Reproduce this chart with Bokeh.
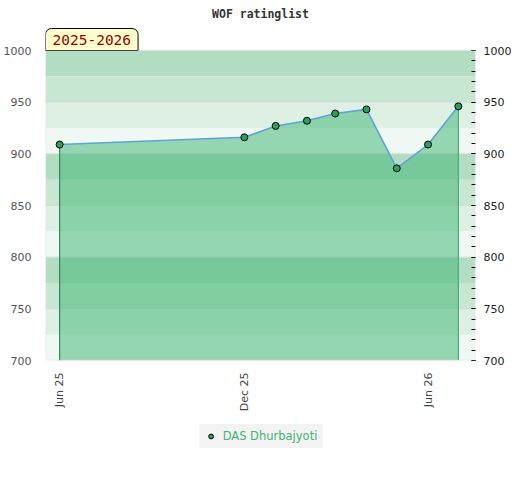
import pandas as pd
import numpy as np
from bokeh.plotting import figure
from bokeh.layouts import column
from bokeh.models import (Range1d, FixedTicker, LinearAxis, DatetimeTickFormatter,
                          BoxAnnotation, Legend, LegendItem, Label, ColumnDataSource, Span)
from bokeh.embed import file_html
from bokeh.resources import INLINE

# ---- data ----
dates = ["2025-06-01", "2025-12-01", "2026-01-01", "2026-02-01", "2026-03-01",
         "2026-04-01", "2026-05-01", "2026-06-01", "2026-07-01"]
ratings = [909, 916, 927, 932, 939, 943, 886, 909, 946]
player = "DAS Dhurbajyoti"
season = "2025-2026"
title = "WOF ratinglist"
x_tick_dates = ["2025-06-01", "2025-12-01", "2026-06-01"]
y_ticks = [700, 750, 800, 850, 900, 950, 1000]

dt = pd.to_datetime(dates)
src = ColumnDataSource(dict(x=dt, y=ratings, base=[700] * len(ratings)))

x_start = dt[0] - pd.Timedelta(days=14)
x_end = dt[-1] + pd.Timedelta(days=17)
x_mid = x_start + (x_end - x_start) / 2

Y_LO, Y_HI = 700, 1000
AREA_PX = 310
TOP_PX = 50
px_per_unit = AREA_PX / (Y_HI - Y_LO)
y_top = Y_HI + TOP_PX / px_per_unit      # room above the rating area for title and badge

p = figure(frame_width=430, frame_height=AREA_PX + TOP_PX, x_axis_type="datetime",
           x_range=Range1d(x_start, x_end), y_range=Range1d(Y_LO, y_top),
           output_backend="svg", toolbar_location=None, y_axis_location=None,
           min_border_left=37, min_border_top=0, min_border_right=0,
           min_border_bottom=0)
p.background_fill_color = "white"
p.border_fill_color = "white"
p.outline_line_color = None

# background bands
band_colors = ["#eff8f2", "#ddf0e3", "#c8e7d3", "#b2ddc2"]
for i, b in enumerate(range(Y_LO, Y_HI, 25)):
    p.add_layout(BoxAnnotation(bottom=b, top=b + 25, fill_color=band_colors[i % 4],
                               fill_alpha=1, line_color=None, level="underlay"))
for t in y_ticks[1:-1]:
    p.add_layout(Span(location=t, dimension="width", line_color="#d4d4d4",
                      line_width=1, line_alpha=0.8, level="underlay"))
# border of the rating area
p.add_layout(BoxAnnotation(bottom=Y_LO, top=Y_HI, fill_color=None, fill_alpha=0,
                           line_color="#d6d6d6", line_width=2, level="overlay"))
p.xgrid.visible = False
p.ygrid.visible = False

# area + lines
p.varea(x="x", y1="base", y2="y", source=src, fill_color="#3cb371", fill_alpha=0.5)
p.segment(x0=[dt[0]], y0=[Y_LO], x1=[dt[0]], y1=[ratings[0]], line_color="#2e8b57", line_width=1.2)
p.segment(x0=[dt[-1]], y0=[Y_LO], x1=[dt[-1]], y1=[ratings[-1]], line_color="#3cb371", line_width=1.2)
p.line(x="x", y="y", source=src, line_color="#5ea3d8", line_width=1.6)
sc = p.scatter(x="x", y="y", source=src, size=7, fill_color="#2e9e5b",
               line_color="black", line_width=1)

# x axis
xa = p.xaxis[0]
xa.ticker = FixedTicker(ticks=[pd.Timestamp(d).value / 1e6 for d in x_tick_dates])
xa.formatter = DatetimeTickFormatter(months="%b %y", days="%b %y", hours="%b %y")
xa.major_label_orientation = np.pi / 2
xa.axis_line_color = None
xa.major_tick_line_color = None
xa.minor_tick_line_color = None
xa.major_label_standoff = 6
xa.major_label_text_font = "DejaVu Sans"
xa.major_label_text_font_size = "11px"
xa.major_label_text_color = "#444444"

# left axis
la = LinearAxis(ticker=FixedTicker(ticks=y_ticks))
la.axis_line_color = None
la.major_tick_line_color = None
la.minor_tick_line_color = None
la.major_label_standoff = 8
la.major_label_text_font = "DejaVu Sans"
la.major_label_text_font_size = "11px"
la.major_label_text_color = "#555555"
p.add_layout(la, "left")

# right axis
ra = LinearAxis(ticker=FixedTicker(ticks=y_ticks, minor_ticks=list(range(Y_LO, Y_HI + 1, 10))))
ra.axis_line_color = None
ra.major_tick_in = 4
ra.major_tick_out = 0
ra.minor_tick_in = 4
ra.minor_tick_out = 0
ra.major_tick_line_color = "black"
ra.minor_tick_line_color = "black"
ra.major_label_standoff = 8
ra.major_label_text_font = "DejaVu Sans"
ra.major_label_text_font_size = "11px"
ra.major_label_text_color = "#222222"
p.add_layout(ra, "right")

# title
p.add_layout(Label(x=x_mid, y=Y_HI, y_offset=37, text=title, text_align="center",
                   text_baseline="middle", text_font="DejaVu Sans Mono",
                   text_font_style="bold", text_font_size="11.5px", text_color="#333333"))

# season badge
p.add_layout(Label(x=x_start, y=Y_HI, text=season, text_align="left", text_baseline="bottom",
                   text_font="DejaVu Sans Mono", text_font_size="14.5px", text_color="#990000",
                   background_fill_color="#ffffcc", border_line_color="black",
                   border_line_width=1, padding=(7, 6), border_radius=(6, 6, 0, 0)))

# legend strip below the chart
q = figure(width=516, height=44, x_range=Range1d(0, 1), y_range=Range1d(0, 1),
           output_backend="svg", toolbar_location=None, min_border=0)
q.axis.visible = False
q.grid.visible = False
q.outline_line_color = None
q_sc = q.scatter(x="x", y="y", source=src, size=7, fill_color="#2e9e5b",
                 line_color="black", line_width=1)
leg = Legend(items=[LegendItem(label=player, renderers=[q_sc])], location="center",
             orientation="horizontal", background_fill_color="#f2f2f2",
             border_line_color="#f2f2f2", label_text_color="#3cb371",
             label_text_font="DejaVu Sans", label_text_font_size="11.5px",
             glyph_width=12, glyph_height=12, label_height=12, label_standoff=6,
             padding=4, margin=0)
q.add_layout(leg, "center")

open("out.html", "w").write(file_html(column(p, q, spacing=0), INLINE))
